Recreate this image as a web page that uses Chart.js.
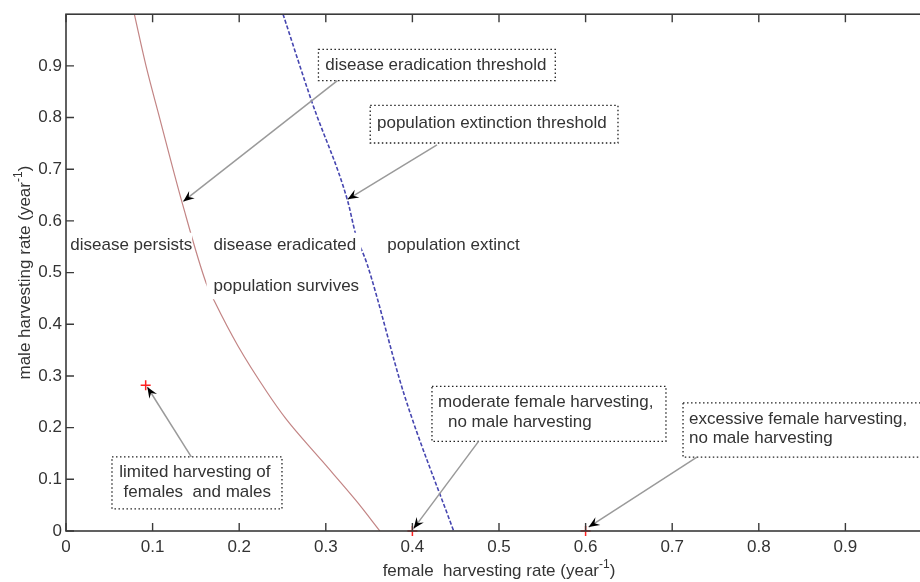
<!DOCTYPE html>
<html>
<head>
<meta charset="utf-8">
<script src="https://cdn.jsdelivr.net/npm/chart.js@4/dist/chart.umd.min.js"></script>
<style>
  body { margin: 0; overflow: hidden; background: #fff; }
  #wrap { width: 960px; height: 582px; }
</style>
</head>
<body>
<div id="wrap"><canvas id="chart" width="960" height="582"></canvas></div>
<script>
// threshold curves (female rate, male rate)
const eradicationF = [0.0789, 0.0924, 0.108, 0.135, 0.162, 0.1716, 0.1986, 0.232, 0.2536, 0.296, 0.335, 0.3625];
const eradicationM = [1.0, 0.9, 0.8, 0.63, 0.479, 0.444, 0.358, 0.269, 0.218, 0.135, 0.0587, 0];

const extinctionF = [0.2506, 0.284, 0.3252, 0.3344, 0.3476, 0.3907, 0.4476];
const extinctionM = [1.0, 0.83, 0.639, 0.575, 0.517, 0.263, 0];

// harvesting scenarios (red crosses)
const scenarioF = [0.092, 0.4, 0.6];
const scenarioM = [0.282, 0, 0];

const xTicks = [0, 0.1, 0.2, 0.3, 0.4, 0.5, 0.6, 0.7, 0.8, 0.9];
const yTicks = [0, 0.1, 0.2, 0.3, 0.4, 0.5, 0.6, 0.7, 0.8, 0.9];

const FONT = '"Liberation Sans", Arial, Helvetica, sans-serif';
const TXT = '#333';

// region labels (white background, no border)
const regionLabels = [
  { text: 'disease persists', x: 0.0049, y: 0.552, pad: [7, 0] },
  { text: 'disease eradicated', x: 0.1704, y: 0.552, pad: [7, 5] },
  { text: 'population extinct', x: 0.371, y: 0.552, pad: [7, 3] },
  { text: 'population survives', x: 0.1704, y: 0.4736, pad: [7, 3] },
];

// dotted boxes with arrows: box = [x0, yTop, x1, yBottom]
const callouts = [
  { lines: [['disease eradication threshold', 0.2994, 0.9019]],
    box: [0.2915, 0.9321, 0.5650, 0.8713], from: [0.3134, 0.8713], to: [0.1354, 0.6377] },
  { lines: [['population extinction threshold', 0.3591, 0.7891]],
    box: [0.3513, 0.8235, 0.6374, 0.7508], from: [0.4284, 0.747], to: [0.3252, 0.6419] },
  { lines: [['limited harvesting of', 0.0615, 0.1141], ['females  and males', 0.0665, 0.0746]],
    box: [0.0531, 0.1434, 0.2494, 0.0428], from: [0.1447, 0.1434], to: [0.0939, 0.2786] },
  { lines: [['moderate female harvesting,', 0.4296, 0.2499], ['no male harvesting', 0.4411, 0.2098]],
    box: [0.4226, 0.2799, 0.6928, 0.1734], from: [0.4764, 0.1734], to: [0.4014, 0.0046] },
  { lines: [['excessive female harvesting,', 0.7194, 0.2168], ['no male harvesting', 0.7194, 0.1786]],
    box: [0.7125, 0.248, 1.004, 0.1428], from: [0.7286, 0.1428], to: [0.6035, 0.0076] },
];

function toPx(chart, x, y) {
  return [chart.scales.x.getPixelForValue(x), chart.scales.y.getPixelForValue(y)];
}

function arrowHead(ctx, fx, fy, tx, ty) {
  const a = Math.atan2(ty - fy, tx - fx);
  const len = 11, half = 4.5, notch = 7;
  ctx.save();
  ctx.translate(tx, ty);
  ctx.rotate(a);
  ctx.beginPath();
  ctx.moveTo(0, 0);
  ctx.lineTo(-len, -half);
  ctx.lineTo(-notch, 0);
  ctx.lineTo(-len, half);
  ctx.closePath();
  ctx.fillStyle = '#000';
  ctx.fill();
  ctx.restore();
}

const annotate = {
  id: 'annotate',
  afterDatasetsDraw(chart) {
    const ctx = chart.ctx;
    const area = chart.chartArea;
    ctx.save();
    ctx.font = '17px ' + FONT;
    ctx.textBaseline = 'middle';

    regionLabels.forEach(l => {
      const [x, y] = toPx(chart, l.x, l.y);
      const w = ctx.measureText(l.text).width;
      ctx.fillStyle = '#fff';
      ctx.fillRect(x - l.pad[0], y - 13, w + l.pad[0] + l.pad[1], 26);
      ctx.fillStyle = TXT;
      ctx.fillText(l.text, x, y);
    });

    callouts.forEach(c => {
      const [x0, y0] = toPx(chart, c.box[0], c.box[1]);
      const [x1, y1] = toPx(chart, c.box[2], c.box[3]);
      ctx.fillStyle = '#fff';
      ctx.fillRect(x0, y0, x1 - x0, y1 - y0);
      ctx.setLineDash([1.5, 2.5]);
      ctx.strokeStyle = '#222';
      ctx.lineWidth = 1.3;
      ctx.strokeRect(x0, y0, x1 - x0, y1 - y0);
      ctx.setLineDash([]);
      ctx.fillStyle = TXT;
      c.lines.forEach(([t, lx, ly]) => {
        const [px, py] = toPx(chart, lx, ly);
        ctx.fillText(t, px, py);
      });
      const [fx, fy] = toPx(chart, c.from[0], c.from[1]);
      const [tx, ty] = toPx(chart, c.to[0], c.to[1]);
      ctx.strokeStyle = '#9a9a9a';
      ctx.lineWidth = 1.5;
      ctx.beginPath();
      ctx.moveTo(fx, fy);
      ctx.lineTo(tx, ty);
      ctx.stroke();
      arrowHead(ctx, fx, fy, tx, ty);
    });

    // box frame with inward ticks, matlab style
    ctx.strokeStyle = '#3a3a3a';
    ctx.lineWidth = 1.6;
    ctx.strokeRect(area.left, area.top, area.right - area.left, area.bottom - area.top);
    ctx.lineWidth = 1.4;
    ctx.beginPath();
    xTicks.forEach(v => {
      const x = chart.scales.x.getPixelForValue(v);
      ctx.moveTo(x, area.bottom); ctx.lineTo(x, area.bottom - 8);
      ctx.moveTo(x, area.top); ctx.lineTo(x, area.top + 8);
    });
    yTicks.forEach(v => {
      const y = chart.scales.y.getPixelForValue(v);
      ctx.moveTo(area.left, y); ctx.lineTo(area.left + 8, y);
      ctx.moveTo(area.right, y); ctx.lineTo(area.right - 8, y);
    });
    ctx.stroke();

    // axis titles with superscript
    ctx.fillStyle = TXT;
    ctx.textBaseline = 'alphabetic';
    ctx.textAlign = 'left';
    const drawTitle = (main) => {
      ctx.font = '17px ' + FONT;
      const w1 = ctx.measureText(main).width;
      ctx.font = '12px ' + FONT;
      const w2 = ctx.measureText('-1').width;
      ctx.font = '17px ' + FONT;
      const w3 = ctx.measureText(')').width;
      let x = -(w1 + w2 + w3) / 2;
      ctx.fillText(main, x, 0);
      x += w1;
      ctx.font = '12px ' + FONT;
      ctx.fillText('-1', x, -8);
      x += w2;
      ctx.font = '17px ' + FONT;
      ctx.fillText(')', x, 0);
    };
    ctx.save();
    ctx.translate((area.left + area.right) / 2, 576);
    drawTitle('female  harvesting rate (year');
    ctx.restore();
    ctx.save();
    ctx.translate(30, (area.top + area.bottom) / 2);
    ctx.rotate(-Math.PI / 2);
    drawTitle('male harvesting rate (year');
    ctx.restore();

    ctx.restore();
  }
};

const ctx = document.getElementById('chart').getContext('2d');
new Chart(ctx, {
  type: 'scatter',
  data: {
    datasets: [
      {
        data: eradicationF.map((x, i) => ({ x, y: eradicationM[i] })),
        showLine: true,
        borderColor: '#c38585',
        borderWidth: 1.2,
        pointRadius: 0,
        cubicInterpolationMode: 'monotone',
      },
      {
        data: extinctionF.map((x, i) => ({ x, y: extinctionM[i] })),
        showLine: true,
        borderColor: '#4646b0',
        borderWidth: 1.6,
        borderDash: [4, 2],
        pointRadius: 0,
        cubicInterpolationMode: 'monotone',
      },
      {
        data: scenarioF.map((x, i) => ({ x, y: scenarioM[i] })),
        pointStyle: 'cross',
        pointRadius: 5,
        borderColor: '#ff2020',
        borderWidth: 1.5,
        clip: false,
      },
    ],
  },
  options: {
    responsive: false,
    animation: false,
    devicePixelRatio: 1,
    layout: { padding: { top: 7, right: 28, left: 0, bottom: 0 } },
    plugins: { legend: { display: false }, tooltip: { enabled: false } },
    scales: {
      x: {
        type: 'linear', min: 0, max: 1,
        afterBuildTicks: s => { s.ticks = xTicks.map(v => ({ value: v })); },
        afterFit: s => { s.height = 51; },
        ticks: { font: { size: 17, family: FONT }, color: TXT, padding: 6, maxRotation: 0,
                 callback: v => String(v) },
        grid: { display: false, drawTicks: false },
        border: { display: false },
      },
      y: {
        type: 'linear', min: 0, max: 1,
        afterBuildTicks: s => { s.ticks = yTicks.map(v => ({ value: v })); },
        afterFit: s => { s.width = 66; },
        ticks: { font: { size: 17, family: FONT }, color: TXT, padding: 4,
                 callback: v => String(v) },
        grid: { display: false, drawTicks: false },
        border: { display: false },
      },
    },
  },
  plugins: [annotate],
});
</script>
</body>
</html>
